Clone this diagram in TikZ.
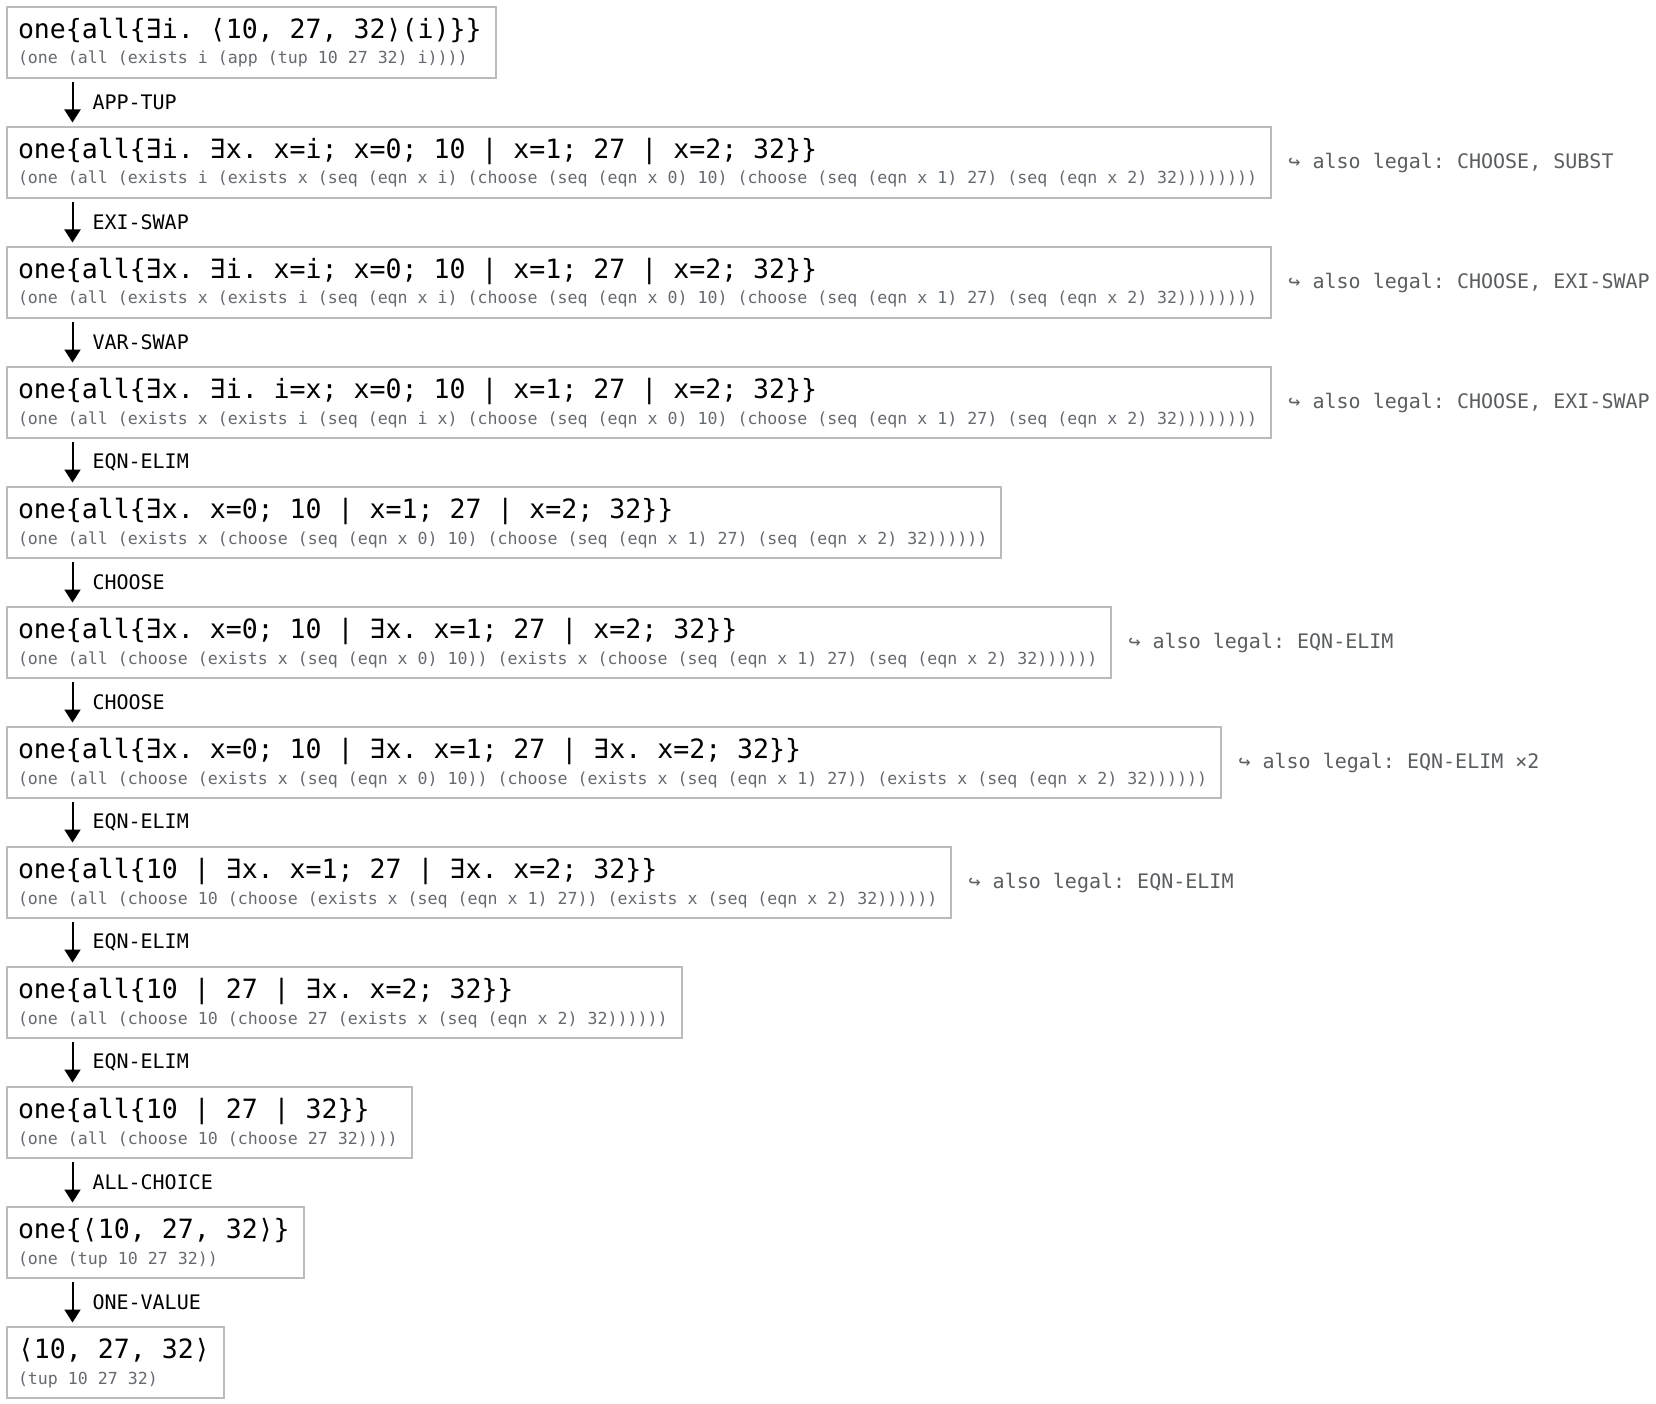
\documentclass[tikz,border=0pt]{standalone}
\usepackage{fontspec}
\newfontfamily\dvmono{DejaVu Sans Mono}
\usetikzlibrary{arrows.meta,fit}
\definecolor{boxgray}{HTML}{BBBBBB}
\definecolor{sexgray}{HTML}{656A70}
\definecolor{anngray}{HTML}{5A5E60}
\tikzset{
  mainline/.style={anchor=base west, inner sep=0pt, font=\dvmono\fontsize{26.55pt}{30pt}\selectfont, text=black},
  sexline/.style={anchor=base west, inner sep=0pt, font=\dvmono\fontsize{16.6pt}{20pt}\selectfont, text=sexgray},
  exbox/.style={rectangle, draw=boxgray, line width=2pt, inner xsep=10.8pt, inner ysep=0pt, outer sep=0pt},
  steparr/.style={-{Triangle[width=16pt,length=13pt]}, line width=2pt, draw=black},
  rulelab/.style={midway, anchor=west, xshift=19pt, yshift=0pt, inner sep=0pt, font=\dvmono\fontsize{20pt}{24pt}\selectfont, text=black},
  annot/.style={anchor=base west, inner sep=0pt, font=\dvmono\fontsize{20pt}{24pt}\selectfont, text=anngray}
}
\newcommand\exprbox[4]{%
  \coordinate (t#1) at (17.8pt,{-#2pt});
  \coordinate (u#1) at (17.8pt,{-#2pt-71pt});
  \node[mainline] (m#1) at (17.8pt,{-#2pt-31.3pt}) {#3};
  \node[sexline] (s#1) at (17.8pt,{-#2pt-57pt}) {#4};
  \coordinate (r#1) at ([xshift=3pt]m#1.east);
  \coordinate (q#1) at ([xshift=3pt]s#1.east);
  \node[exbox, fit=(t#1)(u#1)(m#1)(s#1)(r#1)(q#1)] (b#1) {};
}
\newcommand\steparrow[3]{%
  \draw[steparr] ([xshift=65.5pt,yshift=-4pt]b#1.south west) -- ([xshift=65.5pt,yshift=4.5pt]b#2.north west) node[rulelab] (l#1) {#3};
}
\newcommand\alsolegal[2]{%
  \node[annot] (a#1) at ([xshift=17pt,yshift=-5.8pt]b#1.east) {↪ also legal: #2};
}
\frenchspacing
\begin{document}
\begin{tikzpicture}
\fill[white] (0pt,0pt) rectangle (1656pt,-1404pt);
\useasboundingbox (0pt,0pt) rectangle (1656pt,-1404pt);

\exprbox{0}{7}{one\{all\{∃i. ⟨10, 27, 32⟩(i)\}\}}{(one (all (exists i (app (tup 10 27 32) i))))}
\exprbox{1}{127}{one\{all\{∃i. ∃x. x=i; x=0; 10 | x=1; 27 | x=2; 32\}\}}{(one (all (exists i (exists x (seq (eqn x i) (choose (seq (eqn x 0) 10) (choose (seq (eqn x 1) 27) (seq (eqn x 2) 32))))))))}
\exprbox{2}{247}{one\{all\{∃x. ∃i. x=i; x=0; 10 | x=1; 27 | x=2; 32\}\}}{(one (all (exists x (exists i (seq (eqn x i) (choose (seq (eqn x 0) 10) (choose (seq (eqn x 1) 27) (seq (eqn x 2) 32))))))))}
\exprbox{3}{367}{one\{all\{∃x. ∃i. i=x; x=0; 10 | x=1; 27 | x=2; 32\}\}}{(one (all (exists x (exists i (seq (eqn i x) (choose (seq (eqn x 0) 10) (choose (seq (eqn x 1) 27) (seq (eqn x 2) 32))))))))}
\exprbox{4}{487}{one\{all\{∃x. x=0; 10 | x=1; 27 | x=2; 32\}\}}{(one (all (exists x (choose (seq (eqn x 0) 10) (choose (seq (eqn x 1) 27) (seq (eqn x 2) 32))))))}
\exprbox{5}{607}{one\{all\{∃x. x=0; 10 | ∃x. x=1; 27 | x=2; 32\}\}}{(one (all (choose (exists x (seq (eqn x 0) 10)) (exists x (choose (seq (eqn x 1) 27) (seq (eqn x 2) 32))))))}
\exprbox{6}{727}{one\{all\{∃x. x=0; 10 | ∃x. x=1; 27 | ∃x. x=2; 32\}\}}{(one (all (choose (exists x (seq (eqn x 0) 10)) (choose (exists x (seq (eqn x 1) 27)) (exists x (seq (eqn x 2) 32))))))}
\exprbox{7}{847}{one\{all\{10 | ∃x. x=1; 27 | ∃x. x=2; 32\}\}}{(one (all (choose 10 (choose (exists x (seq (eqn x 1) 27)) (exists x (seq (eqn x 2) 32))))))}
\exprbox{8}{967}{one\{all\{10 | 27 | ∃x. x=2; 32\}\}}{(one (all (choose 10 (choose 27 (exists x (seq (eqn x 2) 32))))))}
\exprbox{9}{1087}{one\{all\{10 | 27 | 32\}\}}{(one (all (choose 10 (choose 27 32))))}
\exprbox{10}{1207}{one\{⟨10, 27, 32⟩\}}{(one (tup 10 27 32))}
\exprbox{11}{1327}{⟨10, 27, 32⟩}{(tup 10 27 32)}

\steparrow{0}{1}{APP-TUP}
\steparrow{1}{2}{EXI-SWAP}
\steparrow{2}{3}{VAR-SWAP}
\steparrow{3}{4}{EQN-ELIM}
\steparrow{4}{5}{CHOOSE}
\steparrow{5}{6}{CHOOSE}
\steparrow{6}{7}{EQN-ELIM}
\steparrow{7}{8}{EQN-ELIM}
\steparrow{8}{9}{EQN-ELIM}
\steparrow{9}{10}{ALL-CHOICE}
\steparrow{10}{11}{ONE-VALUE}

\alsolegal{1}{CHOOSE, SUBST}
\alsolegal{2}{CHOOSE, EXI-SWAP}
\alsolegal{3}{CHOOSE, EXI-SWAP}
\alsolegal{5}{EQN-ELIM}
\alsolegal{6}{EQN-ELIM ×2}
\alsolegal{7}{EQN-ELIM}
\end{tikzpicture}
\end{document}
